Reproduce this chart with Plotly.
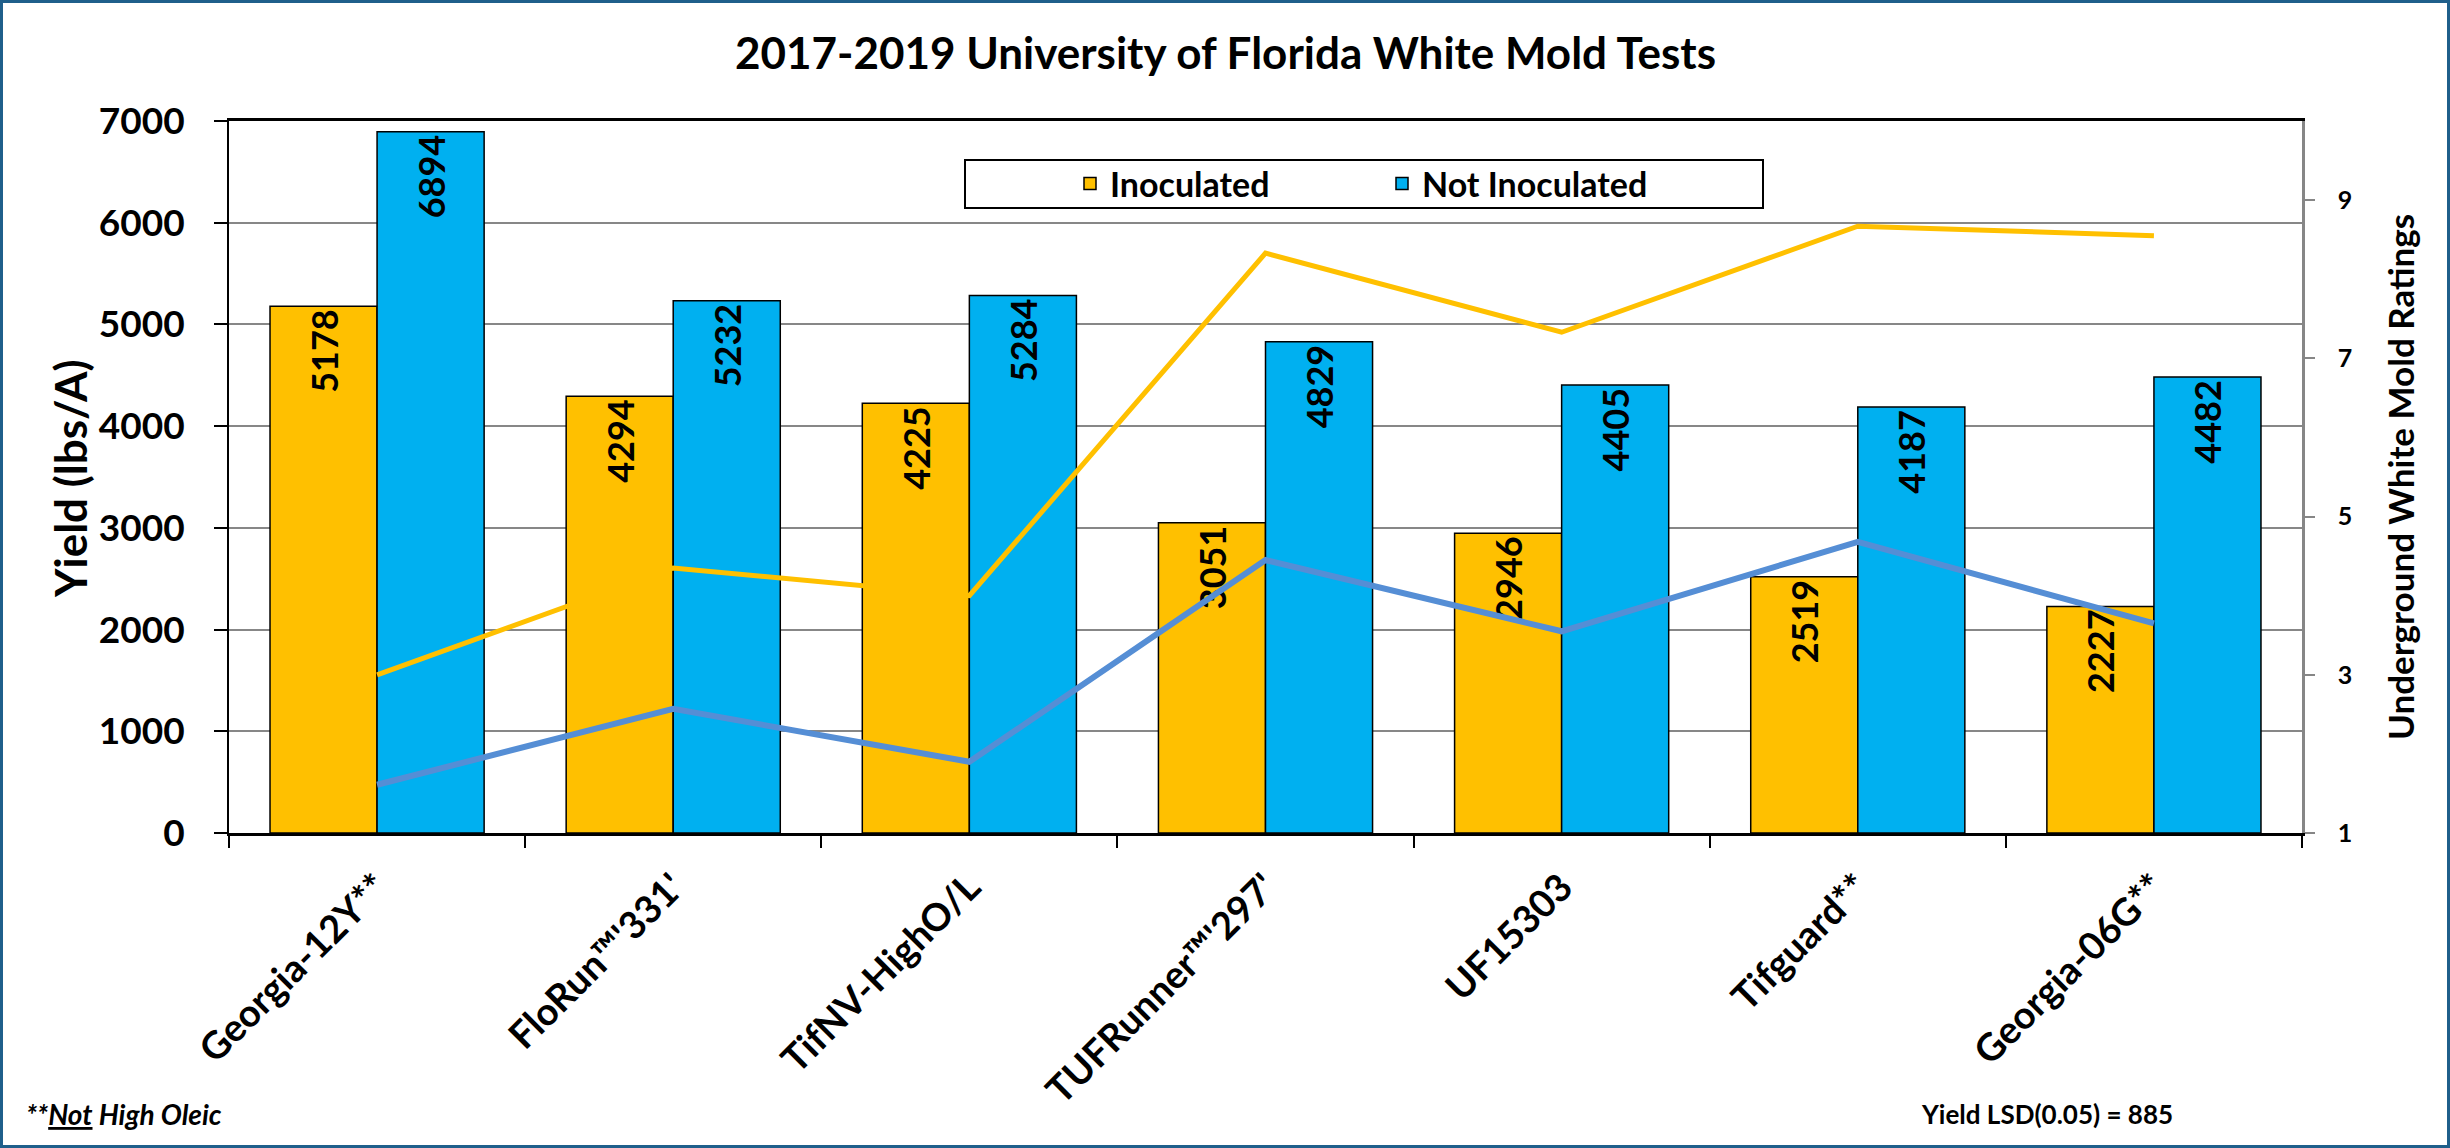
import plotly.graph_objects as go

# ---------------- data ----------------
categories = ["Georgia-12Y**", "FloRun™'331'", "TifNV-HighO/L", "TUFRunner™'297'",
              "UF15303", "Tifguard**", "Georgia-06G**"]
yield_inoculated = [5178, 4294, 4225, 3051, 2946, 2519, 2227]
yield_not_inoculated = [6894, 5232, 5284, 4829, 4405, 4187, 4482]
rating_inoculated = [3.0, 4.35, 4.0, 8.33, 7.33, 8.67, 8.55]
rating_not_inoculated = [1.61, 2.57, 1.90, 4.45, 3.55, 4.68, 3.65]
y_ticks = [0, 1000, 2000, 3000, 4000, 5000, 6000, 7000]
y2_ticks = [1, 3, 5, 7, 9]

# ---------------- layout geometry ----------------
W, H = 2450, 1148
L, R, T, B = 229, 2302, 121, 833


def px2x(px):
    return (px - L) / (R - L)


def py2y(py):
    return (B - py) / (B - T)


YEL = "#FFC000"
BLU = "#00B0F0"
LBLU = "#558ED5"
GRID = "#878787"
FONT = "Lato"

fig = go.Figure()
fig.add_trace(go.Bar(
    name="Inoculated", x=categories, y=yield_inoculated,
    marker=dict(color=YEL, line=dict(color="black", width=1.5)),
    texttemplate="%{y}", textposition="inside", insidetextanchor="end",
    textangle=-90, constraintext="none",
    textfont=dict(family=FONT, size=36, color="black", weight="bold"),
))
fig.add_trace(go.Bar(
    name="Not Inoculated", x=categories, y=yield_not_inoculated,
    marker=dict(color=BLU, line=dict(color="black", width=1.5)),
    texttemplate="%{y}", textposition="inside", insidetextanchor="end",
    textangle=-90, constraintext="none",
    textfont=dict(family=FONT, size=36, color="black", weight="bold"),
))
fig.add_trace(go.Scatter(
    x=categories, y=rating_inoculated, yaxis="y2", mode="lines",
    line=dict(color=YEL, width=5), showlegend=False, name="Inoculated rating",
))
fig.add_trace(go.Scatter(
    x=categories, y=rating_not_inoculated, yaxis="y2", mode="lines",
    line=dict(color=LBLU, width=6), showlegend=False, name="Not Inoculated rating",
))

fig.update_layout(
    width=W, height=H,
    margin=dict(l=L, r=W - R, t=T, b=H - B, autoexpand=False),
    paper_bgcolor="white", plot_bgcolor="white",
    barmode="group", bargap=0.277, bargroupgap=0,
    legend=dict(
        orientation="h", x=px2x(1070), xanchor="left", y=py2y(184), yanchor="middle",
        font=dict(family=FONT, size=34, color="black", weight="bold"),
        bgcolor="rgba(0,0,0,0)", borderwidth=0, entrywidth=267,
        traceorder="normal",
    ),
    xaxis=dict(
        type="category", showline=True, linecolor="black", linewidth=2.5, mirror=True,
        ticks="outside", tickson="boundaries", ticklen=12, tickcolor="black", tickwidth=2,
        tickangle=-45, showgrid=False, ticklabelstandoff=14,
        tickfont=dict(family=FONT, size=38, color="black", weight="bold"),
    ),
    yaxis=dict(
        range=[0, 7000], tickvals=y_ticks, showgrid=True, gridcolor=GRID, gridwidth=2,
        showline=True, linecolor="black", linewidth=2, zeroline=False,
        ticks="outside", ticklen=13, tickcolor="black", tickwidth=2,
        ticklabelstandoff=22,
        tickfont=dict(family=FONT, size=37, color="black", weight="bold"),
    ),
    yaxis2=dict(
        overlaying="y", side="right", range=[1, 10], tickvals=y2_ticks,
        showgrid=False, zeroline=False, showline=True, linecolor="#868686", linewidth=2.5,
        ticks="outside", ticklen=10, tickcolor="#868686", tickwidth=2,
        ticklabelstandoff=18,
        tickfont=dict(family=FONT, size=25, color="black", weight="bold"),
    ),
    shapes=[
        dict(type="rect", xref="paper", yref="paper",
             x0=px2x(1.5), x1=px2x(W - 1.5), y0=py2y(H - 1.5), y1=py2y(1.5),
             line=dict(color="#1F5F8B", width=3), layer="above"),
        dict(type="rect", xref="paper", yref="paper",
             x0=px2x(965), x1=px2x(1763), y0=py2y(208), y1=py2y(160),
             line=dict(color="black", width=2), fillcolor="white", layer="above"),
    ],
    annotations=[
        dict(text="2017-2019 University of Florida White Mold Tests", xref="paper", yref="paper",
             x=px2x(1225), y=py2y(52), xanchor="center", yanchor="middle", showarrow=False,
             font=dict(family=FONT, size=44, color="black", weight="bold")),
        dict(text="Yield (lbs/A)", xref="paper", yref="paper", textangle=-90,
             x=px2x(70), y=py2y(479), xanchor="center", yanchor="middle", showarrow=False,
             font=dict(family=FONT, size=44, color="black", weight="bold")),
        dict(text="Underground White Mold Ratings", xref="paper", yref="paper", textangle=-90,
             x=px2x(2400), y=py2y(477), xanchor="center", yanchor="middle", showarrow=False,
             font=dict(family=FONT, size=35, color="black", weight="bold")),
        dict(text="<i>**<u>Not</u> High Oleic</i>", xref="paper", yref="paper",
             x=px2x(24), y=py2y(1114), xanchor="left", yanchor="middle", showarrow=False,
             font=dict(family=FONT, size=28, color="black", weight="bold")),
        dict(text="Yield LSD(0.05) = 885", xref="paper", yref="paper",
             x=px2x(1919), y=py2y(1114), xanchor="left", yanchor="middle", showarrow=False,
             font=dict(family=FONT, size=26, color="black", weight="bold")),
    ],
)

fig.write_html("out.html", config={"displayModeBar": False},
               post_script="document.body.style.margin='0';document.body.style.overflow='hidden';")
